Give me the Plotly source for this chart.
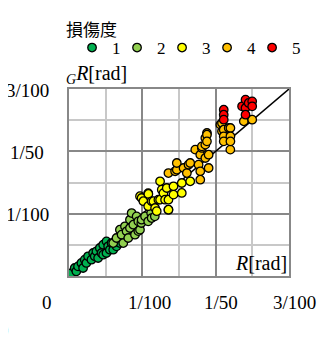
import plotly.graph_objects as go

# Damage level labels and colours
levels = ["1", "2", "3", "4", "5"]
colors = ["#00B050", "#92D050", "#FFFF00", "#FFC000", "#FF0000"]

# R [rad] (x) and GR [rad] (y) for each damage level
x1 = [0.00032, 0.00078, 0.0010, 0.00123, 0.00169, 0.00192, 0.00215, 0.00237, 0.0026, 0.00306,
      0.00329, 0.00351, 0.00374, 0.00397, 0.0042, 0.00443, 0.00466, 0.00466, 0.00511, 0.00511,
      0.00534, 0.00557, 0.0058, 0.00603, 0.00625, 0.00648, 0.00694, 0.0074]
y1 = [0.00048, 0.00128, 0.00075, 0.00155, 0.00209, 0.00128, 0.00262, 0.00209, 0.00316, 0.00262,
      0.00369, 0.00316, 0.00396, 0.00289, 0.00449, 0.00369, 0.00502, 0.00342, 0.00556, 0.00369,
      0.00476, 0.00422, 0.00529, 0.00422, 0.00556, 0.00476, 0.00529, 0.00556]

x2 = [0.00603, 0.00648, 0.00694, 0.00717, 0.0074, 0.00763, 0.00785, 0.00808, 0.00831, 0.00831,
      0.00854, 0.00877, 0.0090, 0.00922, 0.00945, 0.00945, 0.00968, 0.00986, 0.0099, 0.01037,
      0.0108, 0.0112, 0.01127, 0.0117]
y2 = [0.00529, 0.0061, 0.00743, 0.00663, 0.00529, 0.00797, 0.00717, 0.0061, 0.0077, 0.00903,
      0.0101, 0.00823, 0.00663, 0.00957, 0.00877, 0.0072, 0.00743, 0.0085, 0.00903, 0.00957,
      0.00877, 0.0101, 0.0093, 0.00957]

x3 = [0.00968, 0.0099, 0.01014, 0.0108, 0.0108, 0.01082, 0.01127, 0.01151, 0.01174, 0.01196,
      0.01219, 0.01242, 0.01242, 0.01265, 0.01288, 0.0131, 0.01333, 0.01356, 0.01356, 0.01356,
      0.01425, 0.01425, 0.01538, 0.01538, 0.01653]
y3 = [0.0128, 0.01251, 0.0120, 0.0133, 0.0112, 0.01316, 0.01198, 0.0120, 0.01091, 0.0104,
      0.01224, 0.01519, 0.01224, 0.01385, 0.0133, 0.01224, 0.01412, 0.01224, 0.01064, 0.01064,
      0.01439, 0.01305, 0.01492, 0.01332, 0.01519]

x4 = [0.01356, 0.01447, 0.0147, 0.0147, 0.01562, 0.01607, 0.0163, 0.01653, 0.01722, 0.01767,
      0.0179, 0.0179, 0.0179, 0.01812, 0.01812, 0.01859, 0.01859, 0.01859, 0.01881, 0.01881,
      0.01881, 0.01904, 0.01904, 0.02064, 0.02086, 0.02086, 0.0211, 0.0211, 0.0211, 0.02178,
      0.0220, 0.02201, 0.02201, 0.02201, 0.02384, 0.02498]
y4 = [0.01652, 0.0168, 0.01705, 0.01813, 0.01733, 0.01652, 0.01786, 0.01813, 0.02027, 0.01786,
      0.01946, 0.0168, 0.01545, 0.02054, 0.0208, 0.01893, 0.02107, 0.02214, 0.02294, 0.02267,
      0.0216, 0.01946, 0.01733, 0.02428, 0.02455, 0.02321, 0.02347, 0.02241, 0.0216, 0.02374,
      0.02027, 0.02374, 0.02241, 0.0216, 0.02482, 0.02508]

x5 = [0.0211, 0.0211, 0.0211, 0.0236, 0.02407, 0.02407, 0.02407, 0.0245, 0.02498, 0.02498]
y5 = [0.02668, 0.02588, 0.02508, 0.02722, 0.02829, 0.02695, 0.02588, 0.02776, 0.02802, 0.02722]

xs = [x1, x2, x3, x4, x5]
ys = [y1, y2, y3, y4, y5]

# Axis ticks
tick_vals = [0, 0.01, 0.02, 0.03]
x_tick_text = ["0", "1/100", "1/50", "3/100"]
y_tick_text = ["0", "1/100", "1/50", "3/100"]
diag = [0, 0.03]

SERIF = "Liberation Serif"

fig = go.Figure()
fig.add_trace(go.Scatter(x=diag, y=diag, mode="lines",
                         line=dict(color="black", width=1.5),
                         showlegend=False, hoverinfo="skip"))
for i, (lv, c, xv, yv) in enumerate(zip(levels, colors, xs, ys)):
    fig.add_trace(go.Scatter(
        x=xv, y=yv, mode="markers", name=lv,
        legendwidth=(0.01 if i < len(levels) - 1 else 10),
        marker=dict(size=8.5, color=c, line=dict(color="black", width=1.3))))

annotations = []
# x tick labels (placed as in the original picture)
x_shifts = [-22, 7, 5, 5]
for v, t, s in zip(tick_vals, x_tick_text, x_shifts):
    annotations.append(dict(x=v, y=0, xref="x", yref="paper", text=t, showarrow=False,
                            xanchor="center", yanchor="middle", xshift=s, yshift=-26,
                            font=dict(family=SERIF, size=19, color="black")))
# y tick labels
for v, t in zip(tick_vals[1:], y_tick_text[1:]):
    annotations.append(dict(x=0, y=v, xref="paper", yref="y", text=t, showarrow=False,
                            xanchor="center", yanchor="middle", xshift=-42, yshift=-1,
                            font=dict(family=SERIF, size=19, color="black")))
annotations.append(dict(x=0, y=0, xref="paper", yref="y", text=y_tick_text[0], showarrow=False,
                        xanchor="center", yanchor="middle", xshift=-65, yshift=-54,
                        font=dict(family=SERIF, size=19, color="black")))
# axis titles
annotations.append(dict(x=0, y=1, xref="paper", yref="paper",
                        text="<sub><i>G</i></sub><i>R</i>[rad]", showarrow=False,
                        xanchor="left", yanchor="bottom", xshift=-5, yshift=0,
                        font=dict(family=SERIF, size=20, color="black")))
annotations.append(dict(x=1, y=0, xref="paper", yref="paper",
                        text="<i>R</i>[rad]", showarrow=False,
                        xanchor="right", yanchor="bottom", xshift=0, yshift=0,
                        font=dict(family=SERIF, size=20, color="black")))
# legend title
annotations.append(dict(x=0, y=1, xref="paper", yref="paper", text="損傷度", showarrow=False,
                        xanchor="left", yanchor="middle", xshift=-5, yshift=61,
                        font=dict(family="Noto Sans CJK JP", size=17, color="black")))

axis_common = dict(range=[0, 0.03], dtick=0.01, tick0=0, showticklabels=False, ticks="",
                   showgrid=True, gridcolor="#888888", gridwidth=2, zeroline=False,
                   showline=True, mirror=True, linecolor="#888888", linewidth=2,
                   minor=dict(dtick=0.005, showgrid=True, gridcolor="#c8c8c8", gridwidth=2))

fig.update_layout(
    width=327, height=363,
    margin=dict(l=61, r=46, t=81, b=95),
    paper_bgcolor="white", plot_bgcolor="white",
    xaxis=axis_common, yaxis=axis_common,
    annotations=annotations,
    legend=dict(orientation="h", x=1.0865, y=1.3155, xanchor="right", yanchor="top",
                font=dict(family=SERIF, size=17, color="black"),
                entrywidthmode="pixels",
                itemwidth=30, tracegroupgap=0, bgcolor="rgba(0,0,0,0)"),
    showlegend=True,
)

fig.write_html("out.html")
